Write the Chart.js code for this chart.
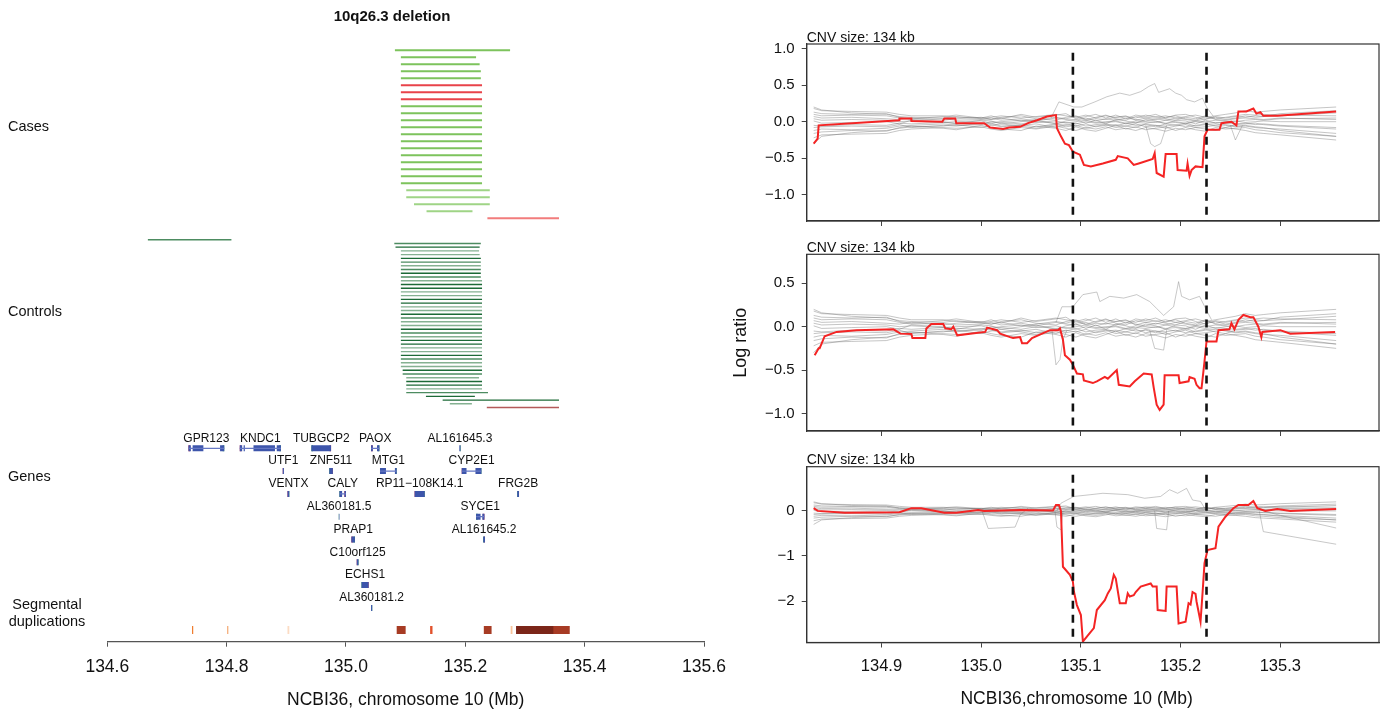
<!DOCTYPE html>
<html>
<head>
<meta charset="utf-8">
<title>10q26.3 deletion</title>
<script src="https://cdn.jsdelivr.net/npm/chart.js@4.4.0/dist/chart.umd.min.js"></script>
<style>
  body { margin: 0; background: #fff; width: 1389px; height: 713px; overflow: hidden; position: relative; }
  .box { position: absolute; }
</style>
</head>
<body>
<div class="box" style="left:0;top:0;width:730px;height:713px"><canvas id="left"></canvas></div>
<div class="box" style="left:730px;top:0;width:659px;height:235px"><canvas id="p1"></canvas></div>
<div class="box" style="left:730px;top:235px;width:659px;height:210px"><canvas id="p2"></canvas></div>
<div class="box" style="left:730px;top:445px;width:659px;height:268px"><canvas id="p3"></canvas></div>
<script>
const FONT = '"Liberation Sans", Arial, Helvetica, sans-serif';

// ---- left panel: CNV calls (Mb) ----
const TITLE = '10q26.3 deletion';
const X_TITLE_LEFT = 'NCBI36, chromosome 10 (Mb)';
const X_TITLE_RIGHT = 'NCBI36,chromosome 10 (Mb)';

// cases: [start, end, group]
const CASES = [
  [135.082, 135.275, 'g'], [135.092, 135.218, 'g'], [135.092, 135.224, 'g'], [135.092, 135.226, 'g'],
  [135.092, 135.226, 'g'], [135.092, 135.228, 'r'], [135.092, 135.228, 'r'], [135.092, 135.228, 'r'],
  [135.092, 135.228, 'g'], [135.092, 135.228, 'g'], [135.092, 135.228, 'g'], [135.092, 135.228, 'g'],
  [135.092, 135.228, 'g'], [135.092, 135.228, 'g'], [135.092, 135.228, 'g'], [135.092, 135.228, 'g'],
  [135.092, 135.228, 'g'], [135.092, 135.228, 'g'], [135.092, 135.228, 'g'], [135.092, 135.228, 'g'],
  [135.101, 135.241, 'h'], [135.101, 135.241, 'h'], [135.114, 135.241, 'h'], [135.135, 135.212, 'h'],
  [135.237, 135.357, 's']
];

// controls: [start, end, group]
const CONTROLS = [
  [134.668, 134.808, 'm'], [135.081, 135.226, 'm'], [135.083, 135.224, 'd'], [135.092, 135.223, 'l'],
  [135.092, 135.224, 'l'], [135.092, 135.226, 'd'], [135.092, 135.226, 'm'], [135.092, 135.226, 'l'],
  [135.092, 135.226, 'm'], [135.092, 135.226, 'd'], [135.092, 135.226, 'm'],
  [135.092, 135.228, 'l'], [135.092, 135.228, 'd'], [135.092, 135.228, 'd'], [135.092, 135.228, 'l'],
  [135.092, 135.228, 'l'], [135.092, 135.228, 'd'], [135.092, 135.228, 'd'], [135.092, 135.228, 'l'],
  [135.092, 135.228, 'l'], [135.092, 135.228, 'd'], [135.092, 135.228, 'm'], [135.092, 135.228, 'l'],
  [135.092, 135.228, 'l'], [135.092, 135.228, 'd'], [135.092, 135.228, 'm'], [135.092, 135.228, 'l'],
  [135.092, 135.228, 'd'], [135.092, 135.228, 'd'], [135.092, 135.228, 'l'], [135.092, 135.228, 'l'],
  [135.092, 135.228, 'd'], [135.092, 135.228, 'm'], [135.092, 135.228, 'l'], [135.092, 135.228, 'l'],
  [135.095, 135.228, 'd'], [135.095, 135.228, 'm'], [135.101, 135.223, 'l'], [135.101, 135.228, 'd'],
  [135.101, 135.228, 'd'], [135.101, 135.228, 'l'], [135.101, 135.238, 'm'], [135.134, 135.216, 'd'],
  [135.162, 135.357, 'd'], [135.174, 135.211, 'l'], [135.236, 135.357, 'r']
];

// genes: name, start, end, row, strand, exons
const GENES = [
  ['GPR123', 134.736, 134.796, 0, '+', [[134.736, 134.740], [134.743, 134.761], [134.789, 134.796]]],
  ['KNDC1', 134.822, 134.891, 0, '+', [[134.822, 134.826], [134.8285, 134.8305], [134.845, 134.881], [134.884, 134.891]]],
  ['TUBGCP2', 134.942, 134.975, 0, '-', [[134.942, 134.975]]],
  ['PAOX', 135.042, 135.056, 0, '+', [[135.042, 135.045], [135.052, 135.056]]],
  ['AL161645.3', 135.190, 135.192, 0, '+', [[135.190, 135.192]]],
  ['UTF1', 134.894, 134.896, 1, '+', [[134.894, 134.896]]],
  ['ZNF511', 134.972, 134.978, 1, '-', [[134.972, 134.978]]],
  ['MTG1', 135.057, 135.085, 1, '+', [[135.057, 135.067], [135.082, 135.085]]],
  ['CYP2E1', 135.194, 135.227, 1, '+', [[135.194, 135.202], [135.217, 135.227]]],
  ['VENTX', 134.902, 134.905, 2, '+', [[134.902, 134.905]]],
  ['CALY', 134.989, 135.000, 2, '-', [[134.989, 134.9935], [134.9975, 135.000]]],
  ['RP11\u2212108K14.1', 135.115, 135.132, 2, '+', [[135.115, 135.132]]],
  ['FRG2B', 135.287, 135.290, 2, '-', [[135.287, 135.290]]],
  ['AL360181.5', 134.988, 134.989, 3, '-', [[134.988, 134.989]]],
  ['SYCE1', 135.218, 135.232, 3, '-', [[135.218, 135.2255], [135.2285, 135.232]]],
  ['PRAP1', 135.009, 135.015, 4, '+', [[135.009, 135.015]]],
  ['AL161645.2', 135.230, 135.233, 4, '-', [[135.230, 135.233]]],
  ['C10orf125', 135.018, 135.021, 5, '+', [[135.018, 135.021]]],
  ['ECHS1', 135.026, 135.038, 6, '-', [[135.026, 135.038]]],
  ['AL360181.2', 135.042, 135.044, 7, '+', [[135.042, 135.044]]]
];

// segmental duplications: [start, end, class]
const SEGDUPS = [
  [134.742, 134.744, 'o'], [134.7990, 134.8005, 'q'], [134.8012, 134.8027, 'q'], [134.902, 134.905, 'p'],
  [135.085, 135.100, 'b'], [135.141, 135.145, 'e'], [135.231, 135.244, 'b'], [135.276, 135.279, 'u'],
  [135.285, 135.348, 'k'], [135.348, 135.375, 'b'], [135.347, 135.349, 'e']
];

const ROW_LABELS = ['Cases', 'Controls', 'Genes'];

// ---- right panels: log ratio ----
const CNV_BOUNDS = [135.092, 135.226];
const CNV_LABEL = 'CNV size: 134 kb';

const GRAY_X = [134.832, 134.840, 134.870, 134.905, 134.918, 134.930, 134.962, 134.975, 135.000, 135.010,
  135.020, 135.040, 135.055, 135.075, 135.085, 135.095, 135.105, 135.115, 135.125, 135.135,
  135.145, 135.155, 135.165, 135.175, 135.185, 135.195, 135.205, 135.215, 135.225, 135.235,
  135.245, 135.255, 135.265, 135.275, 135.283, 135.300, 135.356];

const GRAY_RUNS = [
  [0.18, 0.15, 0.14, 0.13, 0.10, 0.08, 0.08, 0.06, 0.05, 0.06, 0.08, 0.05, 0.07, 0.10, 0.08, 0.06, 0.09, 0.05, 0.08, 0.06,
   0.07, 0.05, 0.09, 0.06, 0.08, 0.05, 0.07, 0.09, 0.06, 0.08, 0.10, 0.12, 0.15, 0.13, 0.14, 0.16, 0.20],
  [-0.22, -0.18, -0.17, -0.16, -0.12, -0.10, -0.08, -0.09, -0.07, -0.10, -0.12, -0.08, -0.10, -0.06, -0.09, -0.12, -0.08, -0.10, -0.07, -0.11,
   -0.09, -0.12, -0.08, -0.10, -0.13, -0.09, -0.11, -0.08, -0.10, -0.12, -0.08, -0.10, -0.12, -0.15, -0.16, -0.18, -0.25],
  [0.10, 0.08, 0.09, 0.08, 0.05, 0.03, 0.04, 0.02, 0.03, 0.05, 0.02, 0.04, 0.01, 0.05, 0.03, 0.02, 0.05, 0.01, 0.04, 0.02,
   0.05, 0.03, 0.01, 0.04, 0.02, 0.05, 0.03, 0.01, 0.04, 0.06, 0.03, 0.05, 0.08, 0.06, 0.07, 0.08, 0.12],
  [-0.12, -0.10, -0.11, -0.09, -0.06, -0.05, -0.03, -0.05, -0.04, -0.02, -0.06, -0.04, -0.07, -0.03, -0.05, -0.02, -0.06, -0.04, -0.03, -0.06,
   -0.02, -0.05, -0.04, -0.07, -0.03, -0.05, -0.02, -0.06, -0.04, -0.03, -0.05, -0.07, -0.06, -0.08, -0.09, -0.10, -0.16],
  [0.04, 0.02, 0.03, 0.02, 0.00, 0.01, -0.01, 0.00, 0.01, -0.02, 0.00, 0.02, -0.01, 0.01, -0.02, 0.00, 0.02, -0.01, 0.00, 0.01,
   -0.02, 0.01, 0.00, -0.01, 0.02, 0.00, -0.02, 0.01, 0.00, 0.02, 0.01, 0.00, 0.02, 0.03, 0.02, 0.04, 0.05],
  [-0.05, -0.06, -0.04, -0.05, -0.02, -0.03, -0.01, -0.02, -0.03, 0.00, -0.01, -0.03, 0.00, -0.02, -0.01, -0.03, 0.00, -0.02, -0.01, 0.00,
   -0.03, -0.01, -0.02, 0.00, -0.02, -0.01, -0.03, 0.00, -0.02, -0.01, -0.02, -0.03, -0.02, -0.04, -0.03, -0.05, -0.08],
  [0.20, 0.16, 0.12, 0.10, 0.07, 0.06, 0.05, 0.07, 0.04, 0.03, 0.06, 0.08, 0.04, 0.02, 0.06, 0.08, 0.03, 0.06, 0.09, 0.04,
   0.02, 0.07, 0.05, 0.03, 0.06, 0.08, 0.04, 0.02, 0.07, 0.04, 0.06, 0.08, 0.10, 0.09, 0.10, 0.09, 0.08],
  [-0.30, -0.20, -0.15, -0.12, -0.09, -0.07, -0.06, -0.04, -0.08, -0.05, -0.03, -0.06, -0.09, -0.04, -0.07, -0.05, -0.09, -0.06, -0.04, -0.08,
   -0.06, -0.03, -0.07, -0.05, -0.09, -0.06, -0.04, -0.08, -0.07, -0.05, -0.04, -0.06, -0.05, -0.07, -0.08, -0.12, -0.20],
  [0.07, 0.05, 0.06, 0.04, 0.03, 0.05, 0.02, 0.04, 0.06, 0.03, 0.05, 0.01, 0.03, 0.06, 0.04, 0.07, 0.02, 0.04, 0.03, 0.06,
   0.08, 0.02, 0.05, 0.07, 0.04, 0.02, 0.06, 0.04, 0.08, 0.03, 0.02, 0.04, 0.05, 0.04, 0.03, 0.05, 0.03],
  [-0.08, -0.07, -0.06, -0.07, -0.04, -0.08, -0.05, -0.06, -0.02, -0.04, -0.07, -0.05, -0.03, -0.08, -0.04, -0.06, -0.03, -0.07, -0.05, -0.04,
   -0.06, -0.08, -0.03, -0.05, -0.06, -0.04, -0.07, -0.05, -0.03, -0.06, -0.08, -0.04, -0.03, -0.02, -0.04, -0.06, -0.10],
  [0.13, 0.11, 0.10, 0.11, 0.06, 0.04, 0.07, 0.09, 0.05, 0.08, 0.04, 0.10, 0.06, 0.09, 0.11, 0.04, 0.07, 0.10, 0.05, 0.09,
   0.04, 0.09, 0.07, 0.10, 0.05, 0.09, 0.10, 0.06, 0.03, 0.07, 0.05, 0.07, 0.06, 0.08, 0.07, 0.11, 0.15],
  [-0.16, -0.14, -0.12, -0.13, -0.08, -0.06, -0.09, -0.11, -0.05, -0.08, -0.10, -0.12, -0.06, -0.09, -0.12, -0.07, -0.11, -0.13, -0.09, -0.05,
   -0.10, -0.07, -0.11, -0.09, -0.07, -0.12, -0.08, -0.11, -0.13, -0.08, -0.10, -0.09, -0.08, -0.11, -0.12, -0.15, -0.20],
  [0.01, -0.02, -0.01, 0.00, -0.03, 0.02, 0.00, -0.03, 0.02, 0.01, -0.03, 0.00, 0.02, -0.03, 0.01, 0.03, -0.02, 0.02, -0.03, 0.03,
   0.01, -0.02, 0.03, 0.01, -0.03, 0.02, 0.01, -0.03, 0.02, -0.02, 0.00, 0.01, -0.01, 0.00, 0.01, 0.00, 0.00]
];

// panel-specific outlying reference samples
const P1_OUTLIERS = [
  { x: [135.070, 135.078, 135.093, 135.101, 135.114, 135.126, 135.139, 135.149, 135.160, 135.168, 135.174, 135.178, 135.189, 135.195, 135.201, 135.206, 135.214, 135.222, 135.226, 135.233],
    y: [0.05, 0.27, 0.20, 0.20, 0.27, 0.34, 0.39, 0.36, 0.41, 0.48, 0.52, 0.40, 0.45, 0.39, 0.36, 0.30, 0.27, 0.32, 0.20, 0.07] },
  { x: [135.165, 135.170, 135.174, 135.180, 135.186], y: [-0.05, -0.30, -0.34, -0.30, -0.05] },
  { x: [135.250, 135.255, 135.262], y: [-0.05, -0.25, -0.05] }
];
const P2_OUTLIERS = [
  { x: [135.075, 135.081, 135.092, 135.102, 135.116, 135.119, 135.129, 135.143, 135.156, 135.169, 135.176, 135.183, 135.193, 135.198, 135.201, 135.209, 135.219, 135.226, 135.231],
    y: [0.05, 0.23, 0.23, 0.37, 0.40, 0.29, 0.35, 0.33, 0.37, 0.29, 0.21, 0.13, 0.23, 0.52, 0.35, 0.31, 0.35, 0.19, 0.08] },
  { x: [135.071, 135.075, 135.079, 135.082, 135.086], y: [-0.04, -0.44, -0.38, -0.15, -0.04] },
  { x: [135.169, 135.174, 135.183, 135.186], y: [-0.04, -0.25, -0.27, -0.04] }
];
const P3_OUTLIERS = [
  { x: [135.076, 135.080, 135.093, 135.110, 135.122, 135.147, 135.164, 135.180, 135.189, 135.197, 135.206, 135.212, 135.220, 135.226],
    y: [0.00, 0.17, 0.32, 0.36, 0.39, 0.36, 0.28, 0.32, 0.47, 0.39, 0.50, 0.24, 0.21, -0.01] },
  { x: [135.001, 135.007, 135.034, 135.039, 135.047], y: [-0.01, -0.39, -0.36, -0.09, 0.06] },
  { x: [135.074, 135.076, 135.080, 135.082], y: [0.00, -0.36, -0.42, 0.00] },
  { x: [135.174, 135.176, 135.186, 135.188], y: [0.00, -0.39, -0.42, 0.00] },
  { x: [135.279, 135.283, 135.356], y: [-0.01, -0.46, -0.74] },
  { x: [135.283, 135.300, 135.356], y: [0.00, -0.10, -0.38] }
];

const P1_RED_X = [134.832, 134.836, 134.837, 134.918, 134.918, 134.930, 134.930, 134.961, 134.963, 134.974,
  134.975, 135.003, 135.009, 135.022, 135.028, 135.039, 135.047, 135.056, 135.066, 135.075,
  135.076, 135.080, 135.084, 135.088, 135.092, 135.099, 135.103, 135.110, 135.122, 135.135,
  135.137, 135.147, 135.153, 135.158, 135.172, 135.174, 135.176, 135.183, 135.185, 135.196,
  135.197, 135.206, 135.207, 135.209, 135.211, 135.215, 135.222, 135.224, 135.227, 135.239,
  135.241, 135.251, 135.256, 135.258, 135.266, 135.273, 135.276, 135.280, 135.283, 135.297, 135.356];
const P1_RED_Y = [-0.30, -0.23, -0.05, 0.02, 0.045, 0.045, 0.01, 0.00, 0.045, 0.045,
  -0.02, -0.02, -0.08, -0.10, -0.08, -0.07, -0.02, 0.02, 0.07, 0.09,
  -0.09, -0.20, -0.30, -0.32, -0.41, -0.45, -0.59, -0.61, -0.57, -0.52,
  -0.47, -0.50, -0.59, -0.57, -0.51, -0.43, -0.70, -0.75, -0.44, -0.44,
  -0.66, -0.67, -0.57, -0.74, -0.66, -0.61, -0.62, -0.20, -0.11, -0.11,
  -0.02, 0.00, -0.05, 0.14, 0.14, 0.18, 0.11, 0.13, 0.08, 0.08, 0.14];

const P2_RED_X = [134.833, 134.837, 134.838, 134.843, 134.855, 134.875, 134.912, 134.919, 134.930, 134.931,
  134.944, 134.945, 134.950, 134.962, 134.964, 134.970, 134.972, 134.976, 135.004, 135.006,
  135.016, 135.019, 135.029, 135.032, 135.039, 135.041, 135.046, 135.051, 135.069, 135.077,
  135.079, 135.082, 135.084, 135.089, 135.092, 135.096, 135.102, 135.103, 135.112, 135.116,
  135.124, 135.127, 135.136, 135.138, 135.149, 135.154, 135.163, 135.171, 135.173, 135.176,
  135.179, 135.183, 135.184, 135.198, 135.199, 135.208, 135.209, 135.214, 135.216, 135.219,
  135.221, 135.224, 135.226, 135.236, 135.238, 135.249, 135.251, 135.254, 135.258, 135.263,
  135.270, 135.273, 135.278, 135.281, 135.282, 135.300, 135.310, 135.355];
const P2_RED_Y = [-0.33, -0.25, -0.25, -0.11, -0.06, -0.04, -0.03, -0.08, -0.085, -0.13,
  -0.13, -0.02, 0.03, 0.03, -0.02, -0.03, 0.00, -0.10, -0.06, -0.01,
  -0.04, -0.08, -0.12, -0.13, -0.12, -0.19, -0.19, -0.13, -0.04, -0.04,
  -0.02, -0.15, -0.33, -0.38, -0.44, -0.54, -0.55, -0.62, -0.65, -0.63,
  -0.58, -0.60, -0.50, -0.67, -0.69, -0.63, -0.54, -0.55, -0.70, -0.90,
  -0.96, -0.90, -0.56, -0.56, -0.65, -0.63, -0.58, -0.60, -0.67, -0.71,
  -0.71, -0.40, -0.17, -0.17, -0.04, -0.03, 0.04, -0.03, 0.08, 0.135,
  0.11, 0.11, 0.00, -0.12, -0.06, -0.04, -0.08, -0.06];

const P3_RED_X = [134.832, 134.836, 134.863, 134.918, 134.930, 134.940, 134.963, 134.975, 134.997, 135.003,
  135.039, 135.072, 135.075, 135.078, 135.080, 135.082, 135.089, 135.092, 135.093, 135.096,
  135.100, 135.102, 135.106, 135.113, 135.116, 135.124, 135.127, 135.130, 135.133, 135.135,
  135.139, 135.145, 135.147, 135.149, 135.153, 135.155, 135.160, 135.170, 135.172, 135.176,
  135.177, 135.185, 135.186, 135.196, 135.198, 135.205, 135.208, 135.210, 135.212, 135.215,
  135.216, 135.220, 135.222, 135.224, 135.227, 135.235, 135.238, 135.245, 135.253, 135.258,
  135.268, 135.273, 135.277, 135.285, 135.297, 135.310, 135.356];
const P3_RED_Y = [0.06, 0.00, -0.04, -0.03, 0.06, 0.06, -0.04, -0.04, 0.02, 0.00,
  0.02, 0.01, 0.13, 0.13, 0.00, -1.24, -1.42, -1.57, -1.79, -2.09,
  -2.31, -2.90, -2.79, -2.60, -2.20, -1.98, -1.83, -1.72, -1.42, -1.50,
  -2.05, -2.05, -1.83, -1.90, -1.87, -1.80, -1.68, -1.61, -1.68, -1.68,
  -2.20, -2.22, -1.68, -1.68, -2.50, -2.46, -2.05, -2.08, -1.80, -1.84,
  -2.01, -2.46, -1.83, -1.16, -0.87, -0.83, -0.35, -0.13, 0.06, 0.13,
  0.13, 0.22, 0.06, 0.00, 0.04, 0.00, 0.04];

// ---- styles / layout ----
const CASE_COLORS = { g: '#7dc35c', h: '#9fd486', r: '#e8434a', s: '#f27c7c' };
const CTRL_COLORS = { d: '#1c6a37', m: '#4d8c61', l: '#85b192', r: '#b45a5a' };
const DUP_COLORS = { o: '#f07a2a', q: '#f08a40', p: '#fcdcc4', b: '#a73b24', e: '#e2522c', u: '#f8c49c', k: '#7b2619' };
const GENE_BLUE = '#3d55ab', GENE_RED = '#cf2f4c', GENE_GREEN = '#3aa55a';

// left panel vertical layout in track units (reversed axis, 0 at top)
const TRACK_MAX = 641.7;
const CASE_Y0 = 50.3, CASE_DY = 7;
const CTRL_Y0 = 239.7, CTRL_DY = 3.73;
const GENE_Y0 = 448.3, GENE_DY = 22.8;
const DUP_Y = 630;

function seg(x0, x1, y, color, width) {
  return { data: [{ x: x0, y: y }, { x: x1, y: y }], showLine: true, borderColor: color,
    borderWidth: width, pointRadius: 0, borderCapStyle: 'butt', fill: false };
}

// drop Chart.js' label-overflow padding so the layout padding alone sets the plot box
function noOverflow(s) {
  s.paddingLeft = 0; s.paddingRight = 0; s.paddingTop = 0; s.paddingBottom = 0;
}

// ---- left chart ----
const leftSets = [];
CASES.forEach((c, i) => leftSets.push(seg(c[0], c[1], CASE_Y0 + i * CASE_DY, CASE_COLORS[c[2]], 2)));
CONTROLS.forEach((c, i) => leftSets.push(seg(c[0], c[1], CTRL_Y0 + i * CTRL_DY, CTRL_COLORS[c[2]], 1.4)));
GENES.forEach(g => {
  const [name, s, e, row, strand, exons] = g;
  const y = GENE_Y0 + row * GENE_DY;
  if (exons.length > 1) leftSets.push(seg(s, e, y, '#6577c4', 1.2));
  exons.forEach(ex => leftSets.push(seg(ex[0], ex[1], y, GENE_BLUE, 6)));
  const cap = Math.min(0.0028, (e - s) / 2);
  const c0 = strand === '+' ? GENE_RED : GENE_GREEN;
  const c1 = strand === '+' ? GENE_GREEN : GENE_RED;
  leftSets.push(seg(s, s + cap, y, c0, 6));
  leftSets.push(seg(e - cap, e, y, c1, 6));
});
SEGDUPS.forEach(d => leftSets.push(seg(d[0], d[1], DUP_Y, DUP_COLORS[d[2]], 8)));

const leftText = {
  id: 'leftText',
  afterDraw(chart) {
    const { ctx, scales: { x, y } } = chart;
    ctx.save();
    ctx.fillStyle = '#111';
    ctx.textBaseline = 'middle';
    ctx.textAlign = 'center';
    ctx.font = 'bold 15px ' + FONT;
    ctx.fillText(TITLE, 392, 17);
    ctx.font = '14.5px ' + FONT;
    ctx.textAlign = 'left';
    const rowY = [CASE_Y0 + 77, CTRL_Y0 + 72, GENE_Y0 + 29];
    ROW_LABELS.forEach((t, i) => ctx.fillText(t, 8, y.getPixelForValue(rowY[i])));
    ctx.textAlign = 'center';
    ctx.fillText('Segmental', 47, y.getPixelForValue(DUP_Y - 25));
    ctx.fillText('duplications', 47, y.getPixelForValue(DUP_Y - 8));
    ctx.font = '12px ' + FONT;
    GENES.forEach(g => {
      const cx = x.getPixelForValue((g[1] + g[2]) / 2);
      ctx.fillText(g[0], cx, y.getPixelForValue(GENE_Y0 + g[3] * GENE_DY - 10));
    });
    ctx.restore();
  }
};

new Chart(document.getElementById('left'), {
  type: 'scatter',
  data: { datasets: leftSets },
  options: {
    responsive: true, maintainAspectRatio: false, animation: false, events: [],
    layout: { padding: { left: 107.3, right: 26, top: 0, bottom: 0 } },
    plugins: { legend: { display: false }, tooltip: { enabled: false } },
    scales: {
      x: {
        type: 'linear', min: 134.6, max: 135.6,
        afterFit: s => { s.height = 713 - TRACK_MAX; noOverflow(s); },
        grid: { drawOnChartArea: false, drawTicks: true, tickLength: 5, color: '#555' },
        border: { display: true, color: '#555', width: 1.3 },
        ticks: { stepSize: 0.2, padding: 9.5, color: '#111', font: { family: FONT, size: 17.5 },
          callback: v => v.toFixed(1) },
        title: { display: true, text: X_TITLE_LEFT, color: '#111', font: { family: FONT, size: 17.5 },
          padding: { top: 0, bottom: 2.5 } }
      },
      y: { type: 'linear', display: false, min: 0, max: TRACK_MAX, reverse: true }
    }
  },
  plugins: [leftText]
});

// ---- right charts ----
function fmtMinus(v, dec) {
  const s = Math.abs(v).toFixed(dec);
  return v < -1e-9 ? '\u2212' + s : s;
}

const panelDeco = {
  id: 'panelDeco',
  afterDraw(chart, args, opts) {
    const { ctx, chartArea: a } = chart;
    ctx.save();
    ctx.strokeStyle = '#333';
    ctx.lineWidth = 1.2;
    ctx.strokeRect(a.left, a.top, a.right - a.left, a.bottom - a.top);
    ctx.fillStyle = '#111';
    ctx.font = '14px ' + FONT;
    ctx.textAlign = 'left';
    ctx.textBaseline = 'alphabetic';
    ctx.fillText(CNV_LABEL, a.left, a.top - 2.5);
    if (opts.xTitle) {
      ctx.font = '17.5px ' + FONT;
      ctx.textAlign = 'center';
      ctx.textBaseline = 'middle';
      ctx.fillText(opts.xTitle, opts.xTitleX, opts.xTitleY);
    }
    ctx.restore();
  }
};

function makePanel(id, p) {
  const sets = [];
  CNV_BOUNDS.forEach(b => sets.push({
    data: [{ x: b, y: p.dashTop }, { x: b, y: p.yMin }], showLine: true, borderColor: '#111',
    borderWidth: 2.6, borderDash: [8, 6], pointRadius: 0, order: 0
  }));
  sets.push({
    data: p.redX.map((x, i) => ({ x: x, y: p.redY[i] })), showLine: true, borderColor: '#f42424',
    borderWidth: 2, pointRadius: 0, order: 1
  });
  GRAY_RUNS.forEach(run => sets.push({
    data: GRAY_X.map((x, i) => ({ x: x, y: run[i] })), showLine: true,
    borderColor: 'rgba(110,110,110,0.5)', borderWidth: 0.8, pointRadius: 0, order: 2
  }));
  p.outliers.forEach(o => sets.push({
    data: o.x.map((x, i) => ({ x: x, y: o.y[i] })), showLine: true,
    borderColor: 'rgba(140,140,140,0.6)', borderWidth: 0.8, pointRadius: 0, order: 2
  }));
  new Chart(document.getElementById(id), {
    type: 'scatter',
    data: { datasets: sets },
    options: {
      responsive: true, maintainAspectRatio: false, animation: false, events: [],
      layout: { padding: { left: 0, right: 10, top: p.padTop, bottom: 0 } },
      plugins: { legend: { display: false }, tooltip: { enabled: false }, panelDeco: p.deco || {} },
      scales: {
        x: {
          type: 'linear', min: 134.825, max: 135.399,
          afterFit: s => { s.height = p.xHeight; noOverflow(s); },
          grid: { drawOnChartArea: false, drawTicks: true, tickLength: 5, color: '#444' },
          border: { display: true, color: '#333', width: 1.2 },
          ticks: { stepSize: 0.1, includeBounds: false, padding: 9.3, display: p.xLabels,
            color: '#111', font: { family: FONT, size: 16.5 }, callback: v => v.toFixed(1) }
        },
        y: {
          type: 'linear', min: p.yMin, max: p.yMax,
          afterFit: s => { s.width = 76.7; noOverflow(s); },
          grid: { drawOnChartArea: false, drawTicks: true, tickLength: 5, color: '#444' },
          border: { display: true, color: '#333', width: 1.2 },
          ticks: { stepSize: p.yStep, includeBounds: false, padding: 7, color: '#111',
            font: { family: FONT, size: 15 }, callback: v => fmtMinus(v, p.yDec) },
          title: { display: !!p.yTitle, text: p.yTitle || '', color: '#111',
            font: { family: FONT, size: 18 }, padding: { top: 0, bottom: 0 } }
        }
      }
    },
    plugins: [panelDeco]
  });
}

makePanel('p1', { redX: P1_RED_X, redY: P1_RED_Y, outliers: P1_OUTLIERS, yMin: -1.355, yMax: 1.06, yStep: 0.5, yDec: 1,
  dashTop: 0.94, padTop: 44, xHeight: 14, xLabels: false });
makePanel('p2', { redX: P2_RED_X, redY: P2_RED_Y, outliers: P2_OUTLIERS, yMin: -1.203, yMax: 0.835, yStep: 0.5, yDec: 1,
  dashTop: 0.73, padTop: 19.3, xHeight: 14, xLabels: false, yTitle: 'Log ratio' });
makePanel('p3', { redX: P3_RED_X, redY: P3_RED_Y, outliers: P3_OUTLIERS, yMin: -2.92, yMax: 0.98, yStep: 1, yDec: 0,
  dashTop: 0.8, padTop: 21.7, xHeight: 70.5, xLabels: true,
  deco: { xTitle: X_TITLE_RIGHT, xTitleX: 346.7, xTitleY: 254 } });
</script>
</body>
</html>
